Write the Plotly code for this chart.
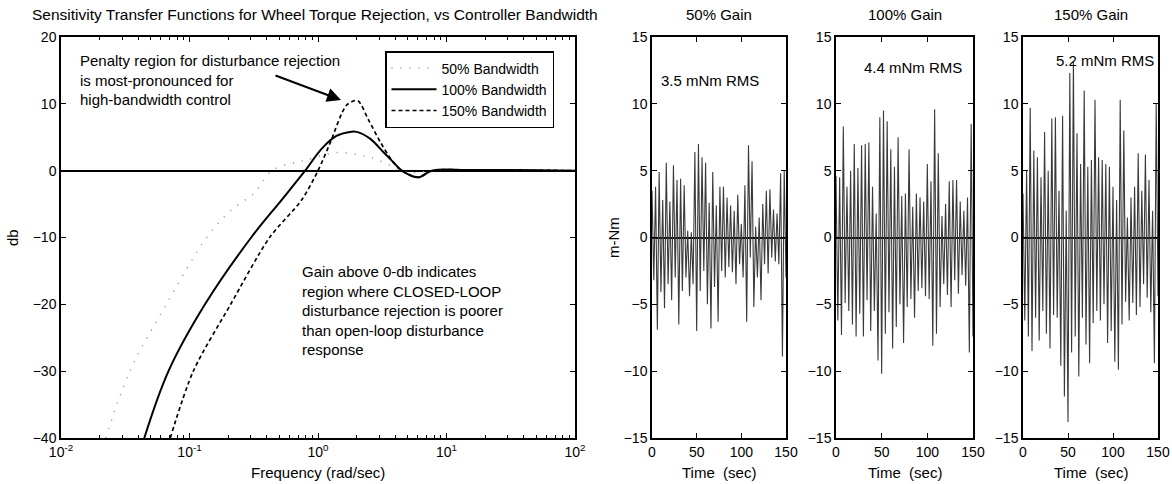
import numpy as np
import plotly.graph_objects as go

W, H = 1172, 484
FONT = "Liberation Sans, Arial, sans-serif"

# ---------------- Sensitivity transfer functions (left panel) ----------------
series_names = ["50% Bandwidth", "100% Bandwidth", "150% Bandwidth"]
freq_ticks = [0.01, 0.1, 1, 10, 100]
freq_tick_text = ["10<sup>-2</sup>", "10<sup>-1</sup>", "10<sup>0</sup>", "10<sup>1</sup>", "10<sup>2</sup>"]

freq_50 = [0.0223, 0.0344, 0.066, 0.136, 0.209, 0.322, 0.353, 0.436, 0.705, 0.817,
           1.39, 2.31, 2.70, 3.63, 4.49, 5.75, 7.59, 100]
db_50 = [-40, -30, -20, -10, -6.0, -3.3, -2.3, 0, 1.35, 1.6,
         2.7, 2.2, 1.85, 0.8, 0, -0.3, 0, 0]
freq_100 = [0.0445, 0.0686, 0.132, 0.302, 0.52, 0.794, 1.07, 1.39, 1.77, 2.0,
            2.54, 3.22, 3.84, 4.49, 6.03, 7.66, 15.8, 100]
db_100 = [-40, -30, -20, -10, -4.4, 0, 3.3, 5.2, 5.8, 5.8,
          4.8, 2.8, 1.3, 0, -1.0, 0, 0.1, 0]
freq_150 = [0.0708, 0.107, 0.209, 0.420, 0.745, 1.0, 1.24, 1.67, 2.03, 2.47,
            3.05, 3.53, 3.84, 4.49, 6.03, 7.66, 15.8, 100]
db_150 = [-40, -30, -20, -10, -4.4, 0, 4.1, 9.8, 10.5, 7.6,
          4.3, 2.3, 1.3, 0, -1.0, 0, 0.1, 0]

# ---------------- Wheel torque time histories (right panels) ----------------
gain_titles = ["50% Gain", "100% Gain", "150% Gain"]
rms_labels = ["3.5 mNm RMS", "4.4 mNm RMS", "5.2 mNm RMS"]
time_ticks = [0, 50, 100, 150]
torque_50 = [3.5, -3.2, 3.8, -6.9, 4.9, -4.1, 2.8, -5.3, 5.6, -3.5, 2.7, -4.7, 5.4, -3.0,
             4.3, -6.5, 4.4, -4.0, 3.9, -3.0, 0.5, -4.4, 0.4, -3.5, 6.4, -7.0, 7.0, -4.0,
             6.0, -2.5, 5.6, -5.0, 2.6, -6.8, 4.9, -3.7, 2.4, -6.3, 3.8, -2.5, 3.8, -3.0,
             3.0, -2.2, 2.4, -2.6, 2.0, -3.5, 3.2, -2.0, 1.0, -3.0, 3.9, -6.3, 6.9, -1.5,
             5.7, -5.2, 0.8, -3.0, 1.5, -4.7, 2.5, -2.0, 3.5, -2.7, 3.6, -1.5, 2.1, -1.8,
             1.8, -2.0, 4.8, -8.9, 5.0, -3.0]
torque_100 = [4.6, -6.2, 4.5, -7.3, 8.3, -4.9, 3.8, -5.5, 5.0, -6.5, 7.0, -7.4, 5.2, -5.7,
              6.9, -7.4, 7.0, -4.7, 7.1, -7.0, 3.8, -5.5, 1.8, -9.2, 9.0, -10.2, 9.5, -7.2,
              8.7, -5.6, 6.6, -8.3, 5.3, -6.7, 7.5, -5.0, 3.1, -7.9, 3.3, -5.2, 6.6, -4.6,
              2.3, -6.0, 3.3, -4.0, 3.0, -3.8, 2.7, -4.4, 5.5, -4.6, 4.2, -8.1, 9.6, -7.2,
              6.3, -5.2, 1.6, -3.5, 2.5, -4.3, 4.2, -5.2, 4.3, -3.2, 4.3, -4.2, 2.7, -2.8,
              2.0, -3.6, 3.0, -8.6, 8.5, -7.4]
torque_150 = [3.3, -6.2, 5.0, -7.4, 9.7, -8.5, 6.5, -6.0, 6.0, -7.7, 4.5, -5.5, 7.9, -7.2,
              5.0, -8.3, 8.9, -5.8, 9.0, -6.0, 3.5, -9.6, 9.1, -11.9, 2.0, -13.8, 12.3, -8.6,
              13.2, -7.4, 7.8, -10.4, 5.5, -6.0, 11.0, -8.0, 5.3, -9.4, 5.8, -6.4, 10.3, -5.5,
              6.0, -6.2, 5.8, -5.0, 5.5, -7.9, 5.3, -7.0, 3.8, -9.3, 2.8, -9.9, 10.3, -6.5,
              8.0, -4.8, 1.5, -6.2, 3.0, -4.9, 3.8, -5.8, 6.3, -5.2, 3.5, -3.5, 6.2, -4.5,
              4.3, -5.6, 2.0, -9.4, 10.0, -4.4]
torque_series = [torque_50, torque_100, torque_150]


def px(x):
    return x / W


def py(y):
    return 1 - y / H


fig = go.Figure()

# left panel curves
fig.add_trace(go.Scatter(x=freq_50, y=db_50, mode="lines", name=series_names[0],
                         line=dict(color="#8a8a8a", width=1.5, dash="1px,8px",
                                   shape="spline", smoothing=1.0),
                         xaxis="x", yaxis="y"))
fig.add_trace(go.Scatter(x=freq_100, y=db_100, mode="lines", name=series_names[1],
                         line=dict(color="black", width=2, shape="spline", smoothing=1.0),
                         xaxis="x", yaxis="y"))
fig.add_trace(go.Scatter(x=freq_150, y=db_150, mode="lines", name=series_names[2],
                         line=dict(color="black", width=1.7, dash="4px,3px",
                                   shape="spline", smoothing=0.8),
                         xaxis="x", yaxis="y"))

# right panels
for i, vals in enumerate(torque_series):
    t = np.linspace(0, 150, len(vals))
    fig.add_trace(go.Scatter(x=t, y=vals, mode="lines", showlegend=False,
                             line=dict(color="#3a3a3a", width=1.1),
                             xaxis=f"x{i+2}", yaxis=f"y{i+2}"))

axis_common = dict(showline=True, linecolor="black", linewidth=1.5, mirror="ticks",
                   ticks="inside", tickcolor="black", ticklen=5, tickwidth=1,
                   showgrid=False, automargin=False,
                   tickfont=dict(family=FONT, size=14, color="black"))

y_dom = [py(438), py(37)]
x_doms = [[px(61), px(575)], [px(652), px(786)], [px(836), px(973)], [px(1023), px(1158)]]

fig.update_layout(
    width=W, height=H, autosize=False,
    margin=dict(l=0, r=0, t=0, b=0, autoexpand=False),
    paper_bgcolor="white", plot_bgcolor="white",
    font=dict(family=FONT, size=15, color="black"),
    xaxis=dict(type="log", range=[-2, 2], tickvals=freq_ticks, ticktext=freq_tick_text,
               domain=x_doms[0], anchor="y", zeroline=False,
               minor=dict(ticks="inside", ticklen=3, tickcolor="black", dtick="D1",
                          showgrid=False),
               **axis_common),
    yaxis=dict(range=[-40, 20], dtick=10, domain=y_dom, anchor="x",
               zeroline=True, zerolinecolor="black", zerolinewidth=2,
               **axis_common),
    legend=dict(x=px(385), y=py(51), xanchor="left", yanchor="top",
                bgcolor="white", bordercolor="black", borderwidth=1.5,
                font=dict(family=FONT, size=14, color="black"),
                tracegroupgap=0, itemwidth=45, entrywidth=140,
                itemclick=False),
    showlegend=True,
)

for i in range(3):
    fig.update_layout(**{
        f"xaxis{i+2}": dict(range=[0, 150], tickvals=time_ticks,
                            domain=x_doms[i + 1], anchor=f"y{i+2}", zeroline=False,
                            **axis_common),
        f"yaxis{i+2}": dict(range=[-15, 15], dtick=5, domain=y_dom, anchor=f"x{i+2}",
                            zeroline=True, zerolinecolor="black", zerolinewidth=2,
                            **axis_common),
    })

ann = []
ann.append(dict(text="Sensitivity Transfer Functions for Wheel Torque Rejection, vs Controller Bandwidth",
                x=px(315), y=py(14), xref="paper", yref="paper", showarrow=False,
                xanchor="center", yanchor="middle", font=dict(size=15.5)))
ann.append(dict(text="db", x=px(12), y=py(238), xref="paper", yref="paper", showarrow=False,
                textangle=-90, xanchor="center", yanchor="middle"))
ann.append(dict(text="Frequency (rad/sec)", x=px(318), y=py(472), xref="paper", yref="paper",
                showarrow=False, xanchor="center", yanchor="middle"))
ann.append(dict(text="Penalty region for disturbance rejection<br>is most-pronounced for<br>high-bandwidth control",
                x=px(78), y=py(80), xref="paper", yref="paper", showarrow=False,
                xanchor="left", yanchor="middle", align="left"))
ann.append(dict(text="", x=px(341), y=py(100), xref="paper", yref="paper",
                ax=-67, ay=-25, axref="pixel", ayref="pixel",
                showarrow=True, arrowhead=2, arrowsize=1.4, arrowwidth=2, arrowcolor="black"))
ann.append(dict(text="Gain above 0-db indicates<br>region where CLOSED-LOOP<br>disturbance rejection is poorer<br>than open-loop disturbance<br>response",
                x=px(300), y=py(310), xref="paper", yref="paper", showarrow=False,
                xanchor="left", yanchor="middle", align="left"))
ann.append(dict(text="m-Nm", x=px(613), y=py(238), xref="paper", yref="paper", showarrow=False,
                textangle=-90, xanchor="center", yanchor="middle"))

rms_pos = [(659, 80), (862, 68), (1054, 60)]
for i in range(3):
    cx = (x_doms[i + 1][0] + x_doms[i + 1][1]) / 2
    ann.append(dict(text=gain_titles[i], x=cx, y=py(15), xref="paper", yref="paper",
                    showarrow=False, xanchor="center", yanchor="middle"))
    ann.append(dict(text="Time\u00a0 (sec)", x=cx, y=py(472), xref="paper", yref="paper",
                    showarrow=False, xanchor="center", yanchor="middle"))
    ann.append(dict(text=rms_labels[i], x=px(rms_pos[i][0]), y=py(rms_pos[i][1]),
                    xref="paper", yref="paper", showarrow=False,
                    xanchor="left", yanchor="middle"))

fig.update_layout(annotations=ann)
fig.write_html("out.html", config={"displayModeBar": False},
               post_script="document.body.style.margin='0';document.body.style.overflow='hidden';")
